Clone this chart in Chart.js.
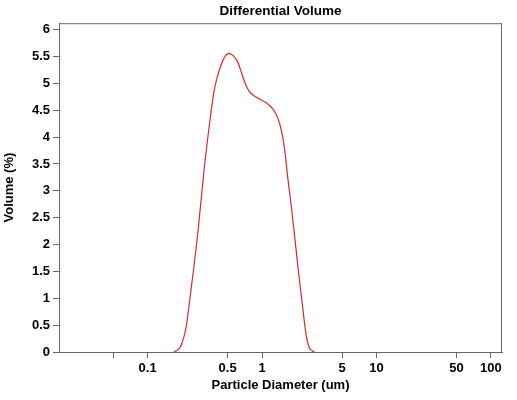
<!DOCTYPE html>
<html>
<head>
<meta charset="utf-8">
<script src="https://cdn.jsdelivr.net/npm/chart.js@4"></script>
<style>
  html, body { margin: 0; padding: 0; background: #fff; }
  #wrap { width: 517px; height: 400px; }
</style>
</head>
<body>
<div id="wrap"><canvas id="psdChart"></canvas></div>
<script>
  // particle diameter (um) and differential volume (%)
  const diameters = [0.171, 0.183, 0.196, 0.217, 0.239, 0.274, 0.313, 0.350, 0.380, 0.410,
                     0.445, 0.475, 0.513, 0.555, 0.612, 0.665, 0.724, 0.78, 0.85, 0.95,
                     1.084, 1.2, 1.325, 1.416, 1.51, 1.59, 1.674, 1.792, 1.917, 2.048,
                     2.265, 2.425, 2.59, 2.866];
  const volumes = [0, 0.04, 0.12, 0.47, 1.15, 2.2, 3.44, 4.3, 4.85, 5.15,
                   5.38, 5.5, 5.56, 5.52, 5.4, 5.18, 4.96, 4.84, 4.77, 4.71,
                   4.64, 4.56, 4.43, 4.27, 4.02, 3.7, 3.26, 2.75, 2.2, 1.62,
                   0.83, 0.32, 0.08, 0];

  const xTickValues = [0.05, 0.1, 0.5, 1, 5, 10, 50, 100];
  const xTickLabels = ['', '0.1', '0.5', '1', '5', '10', '50', '100'];
  const yTickValues = [0, 0.5, 1, 1.5, 2, 2.5, 3, 3.5, 4, 4.5, 5, 5.5, 6];
  const yTickLabels = ['0', '0.5', '1', '1.5', '2', '2.5', '3', '3.5', '4', '4.5', '5', '5.5', '6'];

  const axisColor = '#666';
  const boldFont = { family: "'Liberation Sans', Arial, sans-serif", size: 13, weight: 'bold' };

  // frame round the plot area
  const frame = {
    id: 'frame',
    afterDraw(chart) {
      const { ctx, chartArea: a } = chart;
      ctx.save();
      ctx.strokeStyle = axisColor;
      ctx.lineWidth = 1;
      ctx.strokeRect(a.left + 0.5, a.top + 0.5, a.right - a.left - 1, a.bottom - a.top);
      ctx.restore();
    }
  };

  new Chart(document.getElementById('psdChart'), {
    type: 'line',
    data: {
      datasets: [{
        label: 'Differential Volume',
        data: diameters.map((d, i) => ({ x: d, y: volumes[i] })),
        borderColor: '#d42a2a',
        borderWidth: 1.2,
        pointRadius: 0,
        fill: false,
        cubicInterpolationMode: 'monotone'
      }]
    },
    options: {
      responsive: true,
      maintainAspectRatio: false,
      animation: false,
      layout: { padding: { left: 0, right: 15, top: 0, bottom: 0 } },
      plugins: {
        legend: { display: false },
        tooltip: { enabled: false },
        title: {
          display: true,
          text: 'Differential Volume',
          color: '#000',
          font: { ...boldFont, size: 13.5 },
          fullSize: false,
          padding: { top: 3, bottom: 4 }
        }
      },
      scales: {
        x: {
          type: 'logarithmic',
          min: 0.0168,
          max: 125,
          afterBuildTicks: s => { s.ticks = xTickValues.map(v => ({ value: v })); },
          afterFit: s => { s.height = 48; },
          ticks: {
            autoSkip: false,
            maxRotation: 0,
            color: '#000',
            font: boldFont,
            padding: 3,
            callback: v => xTickLabels[xTickValues.indexOf(v)] ?? ''
          },
          grid: { drawOnChartArea: false, drawTicks: true, tickLength: 6, color: axisColor },
          border: { display: true, color: axisColor },
          title: {
            display: true,
            text: 'Particle Diameter (um)',
            color: '#000',
            font: boldFont,
            padding: { top: 2, bottom: 7 }
          }
        },
        y: {
          min: 0,
          max: 6.12,
          afterBuildTicks: s => { s.ticks = yTickValues.map(v => ({ value: v })); },
          afterFit: s => { s.width = 59; },
          ticks: {
            color: '#000',
            font: boldFont,
            padding: 3,
            callback: v => yTickLabels[yTickValues.indexOf(v)] ?? ''
          },
          grid: { drawOnChartArea: false, drawTicks: true, tickLength: 6, color: axisColor },
          border: { display: true, color: axisColor },
          title: {
            display: true,
            text: 'Volume (%)',
            color: '#000',
            font: boldFont,
            padding: { top: 2, bottom: 4 }
          }
        }
      }
    },
    plugins: [frame]
  });
</script>
</body>
</html>
